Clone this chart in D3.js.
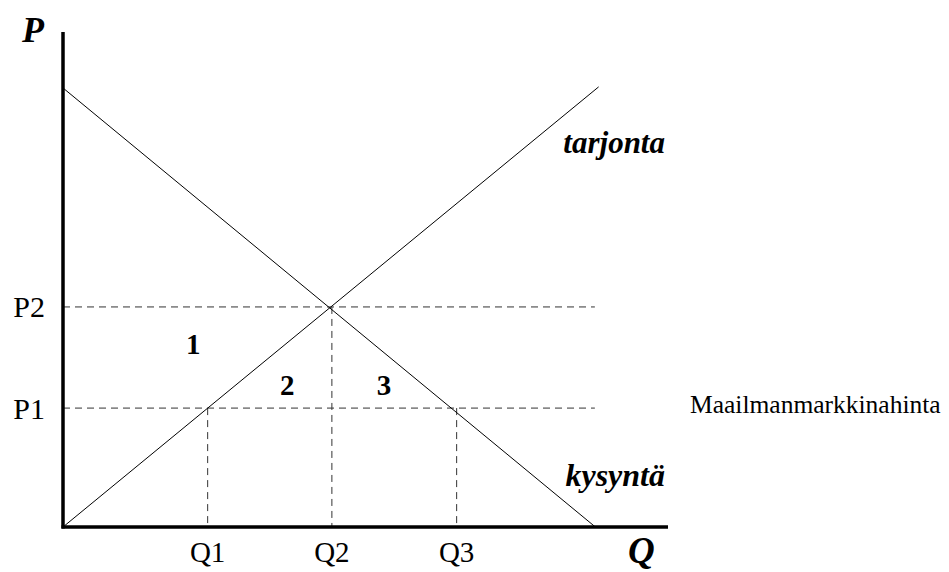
<!DOCTYPE html>
<html>
<head>
<meta charset="utf-8">
<script src="https://cdn.jsdelivr.net/npm/d3@7"></script>
<style>
    body { margin: 0; background: #fff; }
    text { font-family: "Liberation Serif", "Times New Roman", serif; fill: #000; }
</style>
</head>
<body>
<div id="chart"></div>
<script>
// Curve endpoints (Q, P) in chart units
var supplyPoints = [[0, 0], [9.96, 8.18]];
var demandPoints = [[0, 8.16], [9.9, 0]];

// Axis markers
var qTicks = ["Q1", "Q2", "Q3"];
var qValues = [2.69, 5.0, 7.32];
var pTicks = ["P1", "P2"];
var pValues = [2.21, 4.09];

// Surplus areas
var areaLabels = ["1", "2", "3"];
var areaQ = [2.42, 4.17, 5.97];
var areaP = [3.4, 2.65, 2.65];

var curveLabels = ["tarjonta", "kysyntä"];
var worldPriceLabel = "Maailmanmarkkinahinta";

var margin = {top: 32, right: 281, bottom: 45, left: 63};
var width = 949 - margin.left - margin.right;
var height = 572 - margin.top - margin.bottom;

var svg = d3.select("#chart").append("svg")
    .attr("width", 949)
    .attr("height", 572)
    .append("g")
    .attr("transform", "translate(" + margin.left + "," + margin.top + ")");

var x = d3.scaleLinear().domain([0, 11.25]).range([0, width]);
var y = d3.scaleLinear().domain([0, 9.2]).range([height, 0]);

var line = d3.line().x(d => x(d[0])).y(d => y(d[1]));

// Dashed guides
var dashEnd = 9.89;
svg.selectAll(".h-guide")
    .data(pValues)
    .enter().append("line")
    .attr("class", "h-guide")
    .attr("x1", x(0)).attr("x2", x(dashEnd))
    .attr("y1", d => y(d)).attr("y2", d => y(d))
    .attr("stroke", "#333").attr("stroke-width", 1)
    .attr("stroke-dasharray", "7,5");

// Q1 and Q3 drop from world price, Q2 from equilibrium
var guideTop = [pValues[0], pValues[1], pValues[0]];
svg.selectAll(".v-guide")
    .data(qValues)
    .enter().append("line")
    .attr("class", "v-guide")
    .attr("x1", d => x(d)).attr("x2", d => x(d))
    .attr("y1", (d, i) => y(guideTop[i])).attr("y2", y(0))
    .attr("stroke", "#333").attr("stroke-width", 1)
    .attr("stroke-dasharray", "7,5");

// Supply and demand
[supplyPoints, demandPoints].forEach(function (pts) {
    svg.append("path")
        .datum(pts)
        .attr("d", line)
        .attr("fill", "none")
        .attr("stroke", "#000")
        .attr("stroke-width", 1);
});

// Axes
svg.append("line")
    .attr("x1", x(0)).attr("x2", x(0))
    .attr("y1", y(9.2)).attr("y2", y(0) + 1.5)
    .attr("stroke", "#000").attr("stroke-width", 3.5);
svg.append("line")
    .attr("x1", x(0) - 1.5).attr("x2", x(11.25))
    .attr("y1", y(0)).attr("y2", y(0))
    .attr("stroke", "#000").attr("stroke-width", 3.5);

// Tick labels
svg.selectAll(".q-label")
    .data(qTicks)
    .enter().append("text")
    .attr("class", "q-label")
    .attr("x", (d, i) => x(qValues[i]))
    .attr("y", y(0) + 35)
    .attr("text-anchor", "middle")
    .style("font-size", "29px")
    .text(d => d);

svg.selectAll(".p-label")
    .data(pTicks)
    .enter().append("text")
    .attr("class", "p-label")
    .attr("x", -18)
    .attr("y", (d, i) => y(pValues[i]))
    .attr("dy", "0.35em")
    .attr("text-anchor", "end")
    .style("font-size", "30px")
    .text(d => d);

// Axis titles
svg.append("text")
    .attr("x", -41).attr("y", 10)
    .style("font-size", "36px").style("font-weight", "bold").style("font-style", "italic")
    .text("P");
svg.append("text")
    .attr("x", 565).attr("y", y(0) + 36)
    .style("font-size", "37px").style("font-weight", "bold").style("font-style", "italic")
    .text("Q");

// Area numbers
svg.selectAll(".area-label")
    .data(areaLabels)
    .enter().append("text")
    .attr("class", "area-label")
    .attr("x", (d, i) => x(areaQ[i]))
    .attr("y", (d, i) => y(areaP[i]))
    .attr("dy", "0.35em")
    .attr("text-anchor", "middle")
    .style("font-size", "29px").style("font-weight", "bold")
    .text(d => d);

// Curve names
svg.append("text")
    .attr("x", 602).attr("y", 121)
    .attr("text-anchor", "end")
    .style("font-size", "31px").style("font-weight", "bold").style("font-style", "italic")
    .text(curveLabels[0]);
svg.append("text")
    .attr("x", 602).attr("y", 454)
    .attr("text-anchor", "end")
    .style("font-size", "32px").style("font-weight", "bold").style("font-style", "italic")
    .text(curveLabels[1]);

// World price label
svg.append("text")
    .attr("x", 627)
    .attr("y", y(pValues[0]))
    .attr("dy", "0.2em")
    .style("font-size", "25.5px")
    .text(worldPriceLabel);
</script>
</body>
</html>
